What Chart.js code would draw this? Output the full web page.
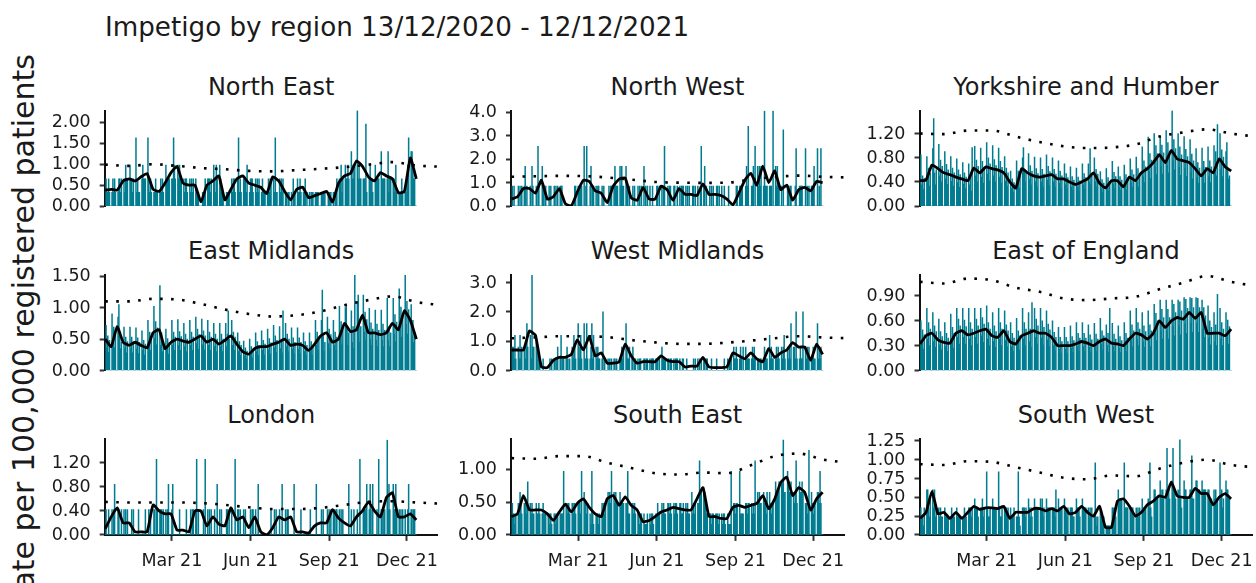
<!DOCTYPE html>
<html><head><meta charset="utf-8">
<script src="https://cdn.jsdelivr.net/npm/chart.js@4.4.1/dist/chart.umd.min.js"></script>
<style>
html,body{margin:0;padding:0;background:#fff;}
body{width:1256px;height:583px;position:relative;overflow:hidden;font-family:"DejaVu Sans",sans-serif;color:#1a1a1a;}
.t{position:absolute;white-space:nowrap;line-height:1;}
.tk{position:absolute;white-space:nowrap;line-height:1;font-size:17.5px;}
canvas{position:absolute;}
</style></head><body>
<div class="t" style="left:105px;top:14px;font-size:26.2px;">Impetigo by region 13/12/2020 - 12/12/2021</div>
<div class="t" style="left:24px;top:328px;font-size:30px;transform:translate(-50%,-50%) rotate(-90deg);">rate per 100,000 registered patients</div>
<script>
const REGIONS = ["North East","North West","Yorkshire and Humber","East Midlands","West Midlands","East of England","London","South East","South West"];
const X_TICK_DAYS = [78,170,262,353];
const X_TICK_LABELS = ["Mar 21","Jun 21","Sep 21","Dec 21"];

const NE_DAILY = [0,.65,.33,.33,.65,.33,0,0,.33,.65,.33,.65,.33,0,0,.33,.65,.65,.33,.65,0,0,.65,.33,.98,.65,.65,0,0,.98,.65,.65,.33,.65,0,0,1.63,.33,.65,.33,.33,0,0,.65,.98,.65,.65,.65,0,0,1.63,.65,.33,.65,.33,0,0,.33,.33,.65,.33,.33,0,0,.33,.65,.33,.65,.33,0,0,.98,.65,.65,.65,.65,0,0,.65,.65,1.63,.98,.65,0,0,.98,.65,.98,.65,.65,0,0,.65,.33,.65,.65,.33,0,0,.65,.33,.65,.33,.65,0,0,.65,.33,.33,.33,0,0,0,0,.33,.33,.33,.65,0,0,.65,.65,.65,.33,.65,0,0,.98,.65,.33,.98,.65,0,0,.98,.65,.33,.33,.33,0,0,0,.33,.33,.33,.33,0,0,.65,.33,.65,.65,.33,0,0,.65,1.63,.33,.65,.33,0,0,.65,.65,.65,.33,.98,0,0,.33,.65,.65,.65,.33,0,0,.65,.33,.65,.33,.65,0,0,.33,.65,.33,.33,.33,0,0,.33,.65,.33,.65,.65,0,0,.65,.33,1.63,.33,.33,0,0,.65,.33,.65,.33,.65,0,0,.33,.33,0,.33,.33,0,0,.33,0,.65,.33,.33,0,0,.65,.33,.33,.65,.33,0,0,.33,.33,.65,0,.33,0,0,.33,0,.33,.33,.33,0,0,.33,.33,.33,.33,0,0,0,.33,.33,.33,.33,.33,0,0,0,.33,.33,.33,.33,0,0,.33,0,.33,.33,.65,0,0,.65,.65,.98,.33,.65,0,0,.98,.65,.65,.98,.65,0,0,1.3,.65,.98,.65,.98,0,0,2.28,.65,.98,.65,.65,0,0,.65,.65,.65,1.96,.33,0,0,.65,.98,.65,.65,.33,0,0,.98,.65,.65,.65,.65,0,0,1.3,.65,.65,.65,.65,0,0,.65,1.3,.33,.65,.65,0,0,.65,.65,.33,.98,.33,0,0,.33,.33,.33,.65,.33,0,0,.33,.33,.65,.98,1.63,0,0,1.3,1.3,.98,.65,.65,0,0];
const NW_DAILY = [0,.85,0,.85,0,0,0,0,.85,0,.85,0,.85,0,0,.85,1.7,0,.85,0,0,0,.85,0,1.7,.85,0,0,0,.85,0,2.55,.85,0,0,0,1.7,.85,.85,0,.85,0,0,0,.85,0,.85,0,0,0,.85,0,.85,0,.85,0,0,.85,.85,.85,0,0,0,0,0,0,0,0,0,0,0,0,0,0,.85,.85,0,0,.85,.85,.85,.85,.85,0,0,2.55,0,.85,2.55,0,0,0,.85,1.7,0,.85,.85,0,0,.85,0,.85,.85,0,0,0,.85,0,.85,0,0,0,0,0,.85,0,.85,.85,0,0,.85,1.7,.85,.85,.85,0,0,1.7,.85,1.7,.85,.85,0,0,1.7,.85,.85,0,.85,0,0,0,.85,0,.85,0,0,0,.85,0,.85,0,.85,0,0,1.7,0,.85,0,.85,0,0,.85,0,0,.85,0,0,0,0,.85,.85,0,.85,0,0,.85,0,.85,2.55,0,0,0,.85,0,.85,.85,0,0,0,.85,.85,0,0,.85,0,0,.85,0,.85,.85,.85,0,0,.85,0,.85,0,.85,0,0,0,.85,.85,0,.85,0,0,.85,0,0,.85,2.55,0,0,.85,1.7,0,.85,0,0,0,.85,0,.85,0,.85,0,0,0,.85,.85,0,.85,0,0,.85,0,0,.85,0,0,0,0,.85,0,0,0,0,0,0,0,0,.85,.85,0,0,.85,.85,.85,.85,0,0,0,.85,1.7,.85,3.4,0,0,0,.85,.85,1.7,0,2.55,0,0,1.7,.85,1.7,.85,1.7,0,0,.85,4.05,.85,.85,.85,0,0,.85,.85,.85,0,4.05,0,0,1.7,.85,1.7,.85,.85,0,0,.85,0,3.25,0,0,0,0,.85,.85,0,.85,.85,0,0,0,0,.85,2.45,0,0,0,.85,.85,.85,.85,0,0,0,2.45,0,.85,0,.85,0,0,.85,.85,.85,1.7,0,0,0,2.45,0,.85,0,2.45,0,0];
const YH_DAILY = [0,.85,.35,.5,.28,.46,0,0,.82,.41,.63,.33,.55,0,0,.95,1.45,.55,.35,.6,0,0,1.02,.5,.76,.4,.66,0,0,.9,.45,.69,.36,.6,0,0,.82,.41,.63,.33,.55,0,0,.78,.39,.6,.31,.52,0,0,.72,.36,.55,.29,.48,0,0,.7,.35,.5,.25,.97,0,0,.99,.5,.76,.4,.66,0,0,.96,.48,.74,.38,.64,0,0,1.05,.53,.8,.42,.7,0,0,1.0,.5,.77,.4,.67,0,0,.96,.48,.74,.38,.64,0,0,.82,.41,.63,.33,.55,0,0,.58,.29,.45,.23,.39,0,0,.75,.38,.58,.3,.5,0,0,.8,.97,.6,.4,.55,0,0,.87,.44,.67,.35,.58,0,0,.81,.4,.62,.32,.54,0,0,.8,.4,.61,.32,.53,0,0,.85,.43,.66,.34,.57,0,0,.8,.4,.61,.32,.53,0,0,.75,.38,.58,.3,.5,0,0,.7,.35,.54,.28,.47,0,0,.65,.32,.49,.26,.43,0,0,.63,.32,.48,.25,.42,0,0,.7,.35,.54,.28,.47,0,0,.7,.4,.95,.35,.5,0,0,.8,.4,.61,.32,.53,0,0,.57,.29,.44,.23,.38,0,0,.62,.31,.47,.25,.41,0,0,.74,.37,.56,.29,.49,0,0,.65,.32,.49,.26,.43,0,0,.68,.34,.52,.27,.45,0,0,.78,.39,.6,.31,.52,0,0,.81,.4,.62,.32,.54,0,0,.98,.49,.75,.39,.65,0,0,1.14,.57,.87,.46,.76,0,0,1.2,.65,1.0,.52,.87,0,0,1.15,.66,1.01,.53,.88,0,0,1.25,.68,1.05,.55,.91,0,0,1.58,.75,1.1,.6,.95,0,0,1.2,.64,.98,.51,.85,0,0,1.15,.62,.94,.49,.82,0,0,1.1,.56,.86,.45,.75,0,0,.95,.47,.72,.38,.63,0,0,.96,.48,.74,.38,.64,0,0,.98,.49,.75,.39,.65,0,0,1.0,.6,.9,.5,1.35,0,0,1.2,.61,.93,.49,.81,0,0,.9,1.05,.6,.45,.5,0,0];
const EM_DAILY = [0,.72,.36,.55,.29,.48,0,0,.9,.45,.69,.36,.6,0,0,.85,1.05,.55,.35,.45,0,0,.69,.35,.53,.28,.46,0,0,.69,.35,.53,.28,.46,0,0,.68,.34,.52,.27,.45,0,0,.63,.32,.48,.25,.42,0,0,.8,.4,.61,.32,.53,0,0,1.02,.51,.78,.41,.68,0,0,1.35,.4,.6,.3,.45,0,0,.66,.33,.51,.26,.44,0,0,.8,.4,.61,.32,.53,0,0,.81,.4,.62,.32,.54,0,0,.75,.38,.58,.3,.5,0,0,.8,.4,.61,.32,.53,0,0,.85,.43,.66,.34,.57,0,0,.82,.41,.63,.33,.55,0,0,.8,.4,.61,.32,.53,0,0,.75,.38,.58,.3,.5,0,0,.75,.38,.58,.3,.5,0,0,.75,.38,.58,.95,.5,0,0,.8,.4,.61,.32,.53,0,0,.6,.3,.46,.24,.4,0,0,.47,.23,.36,.19,.31,0,0,.5,.25,.38,.2,.33,0,0,.6,.3,.46,.24,.4,0,0,.63,.32,.48,.25,.42,0,0,.66,.33,.51,.26,.44,0,0,.72,.36,.55,.29,.48,0,0,.7,.35,.5,.28,.95,0,0,.75,.38,.58,.3,.5,0,0,.68,.34,.52,.27,.45,0,0,.68,.34,.52,.27,.45,0,0,.6,.3,.46,.24,.4,0,0,.6,.3,.46,.24,.4,0,0,.8,.4,.61,.32,.53,0,0,.8,1.28,.55,.3,.45,0,0,.85,.43,.66,.34,.57,0,0,.8,.4,.61,.32,.53,0,0,1.02,.51,.78,.41,.68,0,0,1.0,1.05,.7,.4,.6,0,0,.95,.45,.7,.35,1.52,0,0,1.1,1.2,.8,.45,.7,0,0,1.2,.61,.93,.49,.81,0,0,.99,.5,.76,.4,.66,0,0,.96,.48,.74,.38,.64,0,0,.96,.48,.74,.38,.64,0,0,1.15,.48,.7,.38,.6,0,0,1.15,.58,.89,.46,.77,0,0,1.3,.66,1.01,.53,.88,0,0,1.52,.73,1.1,.58,.97,0,0,1.05,.55,.8,.45,.6,0,0];
const WM_DAILY = [0,.8,.8,.4,1.2,.4,0,0,.8,.4,1.2,.4,.8,0,0,.8,.4,.8,1.6,.8,0,0,1.2,.4,3.25,.8,.8,0,0,1.2,.8,0,.4,.4,0,0,0,.4,0,0,0,0,0,0,0,.4,0,.4,0,0,.4,.4,0,.4,.8,0,0,.4,1.2,0,.4,.4,0,0,.4,.8,.4,0,.4,0,0,.8,.4,1.2,.8,.4,0,0,1.6,.4,.8,1.2,.4,0,0,1.6,.4,.4,1.6,.4,0,0,.4,.8,1.6,.4,1.2,0,0,.8,.4,.8,.4,.4,0,0,.4,2.0,0,.4,0,0,0,.4,0,.4,0,.4,0,0,.4,.4,0,.4,0,0,0,.4,.4,.8,.4,.8,0,0,1.6,.8,.4,.4,.8,0,0,.4,.8,0,.4,.4,0,0,.4,0,.4,.4,0,0,0,.4,.4,0,.4,.4,0,0,.4,0,.4,.4,.4,0,0,.4,.4,.4,0,.4,0,0,.8,.4,.4,.4,.4,0,0,.4,.4,0,.4,.4,0,0,.4,0,.4,.4,.4,0,0,.4,0,0,.4,.4,0,0,0,.4,0,0,0,0,0,0,0,.4,0,.4,0,0,.4,0,.4,0,.4,0,0,.4,.4,0,.4,.4,0,0,0,0,.4,0,0,0,0,0,.4,0,0,0,0,0,0,0,0,.4,0,0,0,.4,0,.4,.4,.4,0,0,.8,.4,.4,.8,.4,0,0,.4,.8,.4,0,.8,0,0,.8,.4,.4,.4,.4,0,0,.4,.8,.4,.8,.4,0,0,.4,.4,0,.4,.4,0,0,.4,.8,.4,.4,.4,0,0,1.2,.4,.8,.4,.4,0,0,.4,.8,.4,.8,.4,0,0,.8,.4,.8,1.2,.4,0,0,.8,.4,.8,.4,1.6,0,0,.8,.8,.4,2.0,.4,0,0,.4,.8,.4,.4,2.0,0,0,.8,.4,.8,.4,.8,0,0,.4,.4,.8,.4,.4,0,0,1.6,.4,.8,.4,.8,0,0];
const EE_DAILY = [0,.6,.32,.49,.26,.43,0,0,.75,.38,.58,.3,.5,0,0,.7,.35,.54,.28,.47,0,0,.62,.31,.47,.25,.41,0,0,.58,.29,.45,.23,.39,0,0,.68,.34,.52,.27,.45,0,0,.75,.4,.62,.32,.54,0,0,.75,.4,.61,.32,.53,0,0,.75,.38,.58,.3,.5,0,0,.75,.4,.62,.32,.54,0,0,.75,.42,.64,.34,.56,0,0,.78,.38,.58,.3,.5,0,0,.7,.35,.54,.28,.47,0,0,.75,.38,.58,.3,.5,0,0,.72,.36,.55,.29,.48,0,0,.58,.29,.45,.23,.39,0,0,.63,.32,.48,.25,.42,0,0,.75,.38,.58,.3,.5,0,0,.7,.35,.5,.28,.82,0,0,.75,.4,.62,.32,.54,0,0,.75,.39,.6,.31,.52,0,0,.72,.37,.56,.29,.49,0,0,.6,.3,.46,.24,.4,0,0,.52,.26,.4,.21,.35,0,0,.52,.26,.4,.21,.35,0,0,.54,.27,.41,.22,.36,0,0,.58,.29,.45,.23,.39,0,0,.58,.29,.45,.23,.39,0,0,.55,.28,.43,.22,.37,0,0,.57,.29,.44,.23,.38,0,0,.63,.32,.48,.25,.42,0,0,.55,.3,.45,.22,.75,0,0,.57,.29,.44,.23,.38,0,0,.54,.27,.41,.22,.36,0,0,.58,.29,.45,.23,.39,0,0,.72,.36,.55,.29,.48,0,0,.75,.38,.58,.3,.5,0,0,.7,.35,.54,.28,.47,0,0,.72,.36,.55,.29,.48,0,0,.8,.45,.69,.36,.6,0,0,.85,.48,.74,.38,.64,0,0,.85,.48,.74,.38,.64,0,0,.85,.53,.8,.42,.7,0,0,.85,.54,.83,.43,.72,0,0,.88,.56,.86,.45,.75,0,0,.88,.57,.87,.46,.76,0,0,.88,.57,.87,.46,.76,0,0,.85,.5,.76,.4,.66,0,0,.78,.39,.6,.31,.52,0,0,.7,.35,.55,.3,.92,0,0,.75,.38,.58,.3,.5,0,0,.7,.4,.61,.32,.53,0,0];
const LON_DAILY = [0,.42,0,0,.42,0,0,0,.42,0,.42,.84,0,0,0,.42,.42,0,0,.42,0,0,.42,0,.42,0,.42,0,0,0,0,.42,0,.42,0,0,0,0,0,.42,0,0,0,0,0,0,0,.42,0,0,0,.42,0,.42,0,0,0,.42,.42,0,1.26,.42,0,0,.42,.42,.42,0,.42,0,0,.42,0,.42,.84,0,0,0,.42,.84,0,0,0,0,0,0,0,.42,0,0,0,0,0,0,0,.42,0,0,0,0,.42,0,.42,.42,0,0,.42,1.26,0,.42,0,0,0,0,0,.42,0,1.26,0,0,.42,0,.42,0,.42,0,0,0,.42,0,0,.84,0,0,.42,0,.42,0,0,0,0,0,.42,.42,0,.42,0,0,.42,0,0,0,1.26,0,0,.42,.42,0,.42,0,0,0,.42,0,.42,0,0,0,0,0,.42,0,.42,.42,0,0,.42,0,0,.84,0,0,0,0,0,0,0,0,0,0,0,0,0,0,.42,0,0,0,.42,0,.42,0,0,0,.42,0,0,.84,0,0,0,.42,0,.42,.42,0,0,0,0,0,0,.84,0,0,0,0,0,0,0,.42,0,0,0,0,0,0,0,0,0,0,.42,0,0,0,0,0,0,.84,0,0,0,0,0,.42,0,.42,0,0,0,0,.42,0,.42,0,.42,0,0,.42,.42,0,.42,.42,0,0,.42,0,.42,0,.42,0,0,0,0,0,0,.84,0,0,.42,0,0,.42,0,0,0,.42,0,0,1.26,0,0,0,.42,.42,.42,.42,.84,0,0,.42,.84,.42,0,.84,0,0,0,0,.42,0,1.26,0,0,.42,.42,0,.42,.42,0,0,1.58,.42,.84,.42,0,0,0,.84,.42,.42,.84,.42,0,0,.42,0,.42,0,.42,0,0,.42,0,0,.42,.84,0,0,.42,.42,0,.42,.42,0,0];
const SE_DAILY = [0,.48,.32,.32,.16,.32,0,0,.48,.32,.65,.48,.32,0,0,.48,.48,.32,.48,.81,0,0,.48,.32,.48,.32,.32,0,0,.48,.32,.32,.48,.32,0,0,.32,.48,.32,.32,.32,0,0,.32,.16,.32,.32,.16,0,0,.32,.32,.16,.32,.32,0,0,.32,.32,.32,.32,.97,0,0,.48,.32,.48,.48,.32,0,0,.48,.48,.32,.48,.32,0,0,.48,.48,.48,.32,.97,0,0,.65,.48,.48,.32,.48,0,0,.32,.16,.97,.32,.16,0,0,.32,.32,.32,.16,.32,0,0,.48,.32,.48,.32,.48,0,0,.65,.48,.65,.48,.97,0,0,.65,.48,.65,.48,.48,0,0,.65,.48,.48,.48,.48,0,0,.48,.48,.97,.32,.32,0,0,.48,.48,.32,.48,.32,0,0,.32,.32,.16,.32,.32,0,0,.32,.16,.16,.16,.32,0,0,.32,.16,.32,.32,.16,0,0,.32,.32,.48,.32,.32,0,0,.48,.32,.48,.32,.32,0,0,.48,.48,.32,.48,.32,0,0,.48,.32,.48,.48,.32,0,0,.48,.48,.32,.32,.48,0,0,.48,.32,.48,.32,.32,0,0,.65,.32,.48,.32,.48,0,0,.48,.48,1.13,.65,.65,0,0,.65,.65,.48,.32,.32,0,0,.32,.32,.16,.32,.32,0,0,.32,.32,.32,.16,.32,0,0,.32,.16,.32,.32,.16,0,0,.32,.16,.16,.16,.97,0,0,.48,.48,.32,.48,.48,0,0,.97,.32,.32,.32,.32,0,0,.48,.48,.32,.48,.48,0,0,.48,.32,.48,.32,1.13,0,0,.65,.48,.65,.48,.48,0,0,.65,.48,.48,.32,.65,0,0,.65,.48,.32,.48,.48,0,0,.81,.65,.65,.65,.81,0,0,.81,.81,1.45,.65,.65,0,0,.97,.81,.65,.65,.81,0,0,.65,.48,.65,1.13,.48,0,0,.81,.65,.65,.81,.65,0,0,.48,.48,.32,.48,1.29,0,0,.65,.48,.32,.48,.48,0,0,.65,.65,.48,.97,.48,0,0];
const SW_DAILY = [0,.36,.24,.24,.12,.36,0,0,.6,.6,.36,.24,.48,0,0,.6,.36,.6,.24,.36,0,0,.36,.24,.36,.24,.24,0,0,.36,.24,.24,.24,.24,0,0,.24,.36,.24,.24,.24,0,0,.36,.24,.24,.24,.24,0,0,.24,.24,.36,.24,.24,0,0,.36,.36,.36,.24,.36,0,0,.48,.36,.36,.36,.24,0,0,.36,.36,.48,.24,.36,0,0,.84,.36,.24,.24,.36,0,0,.48,.36,.36,.36,.36,0,0,.84,.36,.24,.24,.36,0,0,.36,.36,.36,.24,.36,0,0,.36,.24,.24,.24,.36,0,0,.24,.24,.84,.24,.12,0,0,.36,.36,.36,.24,.36,0,0,.48,.36,.24,.36,.24,0,0,.48,.36,.36,.36,.36,0,0,.48,.36,.48,.24,.36,0,0,.48,.36,.36,.36,.36,0,0,.36,.36,.36,.24,.6,0,0,.48,.36,.36,.36,.36,0,0,.48,.36,.36,.24,.36,0,0,.36,.36,.36,.24,.24,0,0,.48,.36,.36,.36,.24,0,0,.48,.36,.36,.36,.36,0,0,.36,.24,.36,.24,.36,0,0,.24,.96,.24,.12,.24,0,0,.36,.24,.24,.24,.24,0,0,.12,.12,.12,.12,.12,0,0,.36,.36,.24,.36,.24,0,0,.6,.48,.48,.48,.48,0,0,.96,.36,.36,.36,.36,0,0,.36,.36,.36,.36,.24,0,0,.36,.24,.36,.24,.36,0,0,.48,.36,.36,.36,.36,0,0,.48,.36,.96,.36,.24,0,0,.6,.6,.48,.48,.48,0,0,.72,.6,.48,.6,.48,0,0,.6,1.15,.6,.6,.48,0,0,.72,1.15,.6,.6,.48,0,0,.6,.48,1.27,.48,.36,0,0,.72,.6,.6,.48,.48,0,0,.6,.6,1.05,.48,.48,0,0,.72,.72,.6,.6,.6,0,0,.72,.6,.6,.6,.6,0,0,.6,.6,.48,.48,.48,0,0,.6,.48,.6,.48,.48,0,0,.96,.48,.6,.36,.48,0,0,.72,.6,.6,.48,.48,0,0];

const NE_AVG = [.38,.40,.38,.6,.65,.6,.7,.78,.4,.35,.55,.8,.95,.55,.5,.5,.1,.5,.6,.72,.15,.4,.65,.72,.55,.5,.45,.3,.7,.6,.35,.15,.4,.45,.2,.25,.3,.35,.1,.55,.72,.78,1.08,.95,.7,.6,.8,.72,.65,.32,.35,1.15,.65];
const NW_AVG = [.3,.4,.75,.75,.55,1.1,.3,.4,.75,.1,0,.6,1.1,1.05,.65,.55,.15,.85,1.15,1.2,.35,.25,.8,.3,.3,.85,.7,.25,.75,.5,.5,.45,.95,.5,.5,.45,.3,.05,.55,1.1,1.4,.9,1.7,1.0,1.5,.7,.9,.25,.7,.8,.65,1.05,1.0];
const YH_AVG = [.42,.43,.68,.62,.55,.52,.48,.45,.42,.63,.55,.65,.62,.6,.55,.4,.3,.62,.55,.5,.48,.5,.52,.45,.45,.4,.36,.4,.45,.55,.38,.3,.42,.42,.32,.48,.42,.55,.62,.72,.85,.72,.92,.78,.75,.72,.62,.5,.62,.55,.78,.65,.58];
const EM_AVG = [.5,.38,.7,.45,.4,.45,.4,.36,.6,.65,.35,.45,.5,.47,.45,.5,.55,.45,.5,.42,.48,.55,.42,.3,.26,.35,.38,.38,.42,.45,.5,.4,.42,.4,.32,.42,.55,.6,.45,.5,.75,.62,.65,.88,.6,.6,.57,.6,.75,.65,.95,.8,.5];
const WM_AVG = [.7,.7,.7,1.35,1.2,.12,.1,.35,.45,.45,.55,1.05,.7,1.15,.5,.6,.25,.25,.3,.9,.5,.25,.3,.3,.3,.5,.35,.3,.3,.12,.15,.15,.45,.12,.1,.1,.12,.6,.5,.4,.6,.4,.3,.75,.45,.6,.7,.95,.8,.8,.35,.9,.55];
const EE_AVG = [.32,.42,.45,.37,.34,.33,.45,.48,.43,.45,.48,.5,.42,.4,.48,.35,.32,.42,.45,.48,.45,.45,.4,.3,.3,.3,.32,.35,.33,.3,.35,.38,.33,.32,.3,.38,.45,.43,.38,.45,.6,.52,.6,.64,.62,.7,.63,.7,.45,.45,.45,.42,.5];
const LON_AVG = [.1,.3,.45,.2,.2,.05,.05,.05,.5,.4,.35,.35,.08,.08,.05,.4,.4,.15,.3,.18,.15,.45,.25,.3,.12,.3,.05,0,.12,.3,.25,.3,.05,.05,.03,.15,.2,.2,.42,.28,.2,.15,.3,.4,.55,.4,.3,.62,.7,.3,.3,.35,.25];
const SE_AVG = [.28,.32,.6,.38,.38,.38,.32,.22,.35,.47,.35,.48,.55,.42,.32,.28,.55,.6,.45,.58,.45,.38,.2,.22,.28,.35,.38,.42,.4,.38,.38,.55,.72,.28,.28,.25,.25,.42,.45,.42,.45,.48,.6,.4,.55,.8,.88,.6,.72,.65,.38,.55,.65];
const SW_AVG = [.22,.3,.58,.28,.3,.22,.3,.22,.3,.38,.34,.36,.36,.35,.38,.22,.3,.3,.3,.35,.35,.32,.35,.32,.38,.28,.3,.38,.3,.25,.38,.1,.1,.45,.48,.38,.25,.3,.4,.45,.52,.5,.7,.52,.5,.5,.62,.55,.55,.4,.5,.55,.48];

const NE_BASE = [.99,.96,1.0,.96,.91,.88,.84,.83,.86,.89,.93,.99,1.05,.97,.94];
const NW_BASE = [1.25,1.27,1.29,1.28,1.22,1.13,1.03,1.0,.99,1.0,1.13,1.24,1.3,1.25,1.22];
const YH_BASE = [1.2,1.19,1.25,1.25,1.15,1.06,.99,.96,.97,1.02,1.15,1.22,1.27,1.2,1.15];
const EM_BASE = [1.1,1.1,1.14,1.13,1.06,.97,.9,.86,.88,.94,1.04,1.12,1.18,1.09,1.04];
const WM_BASE = [1.1,1.13,1.17,1.17,1.14,1.04,.96,.91,.91,.95,1.02,1.1,1.17,1.13,1.1];
const EE_BASE = [1.07,1.05,1.11,1.09,1.0,.95,.87,.85,.87,.89,.98,1.06,1.14,1.07,1.02];
const LON_BASE = [.55,.54,.54,.54,.53,.5,.46,.43,.43,.45,.5,.55,.56,.54,.52];
const SE_BASE = [1.17,1.16,1.2,1.2,1.1,1.02,.94,.92,.95,.94,1.06,1.2,1.24,1.15,1.1];
const SW_BASE = [.94,.93,.98,.97,.9,.83,.76,.74,.79,.78,.88,.96,1.0,.93,.9];

const NE_TICKS = ["0.00","0.50","1.00","1.50","2.00"];
const NW_TICKS = ["0.0","1.0","2.0","3.0","4.0"];
const YH_TICKS = ["0.00","0.40","0.80","1.20"];
const EM_TICKS = ["0.00","0.50","1.00","1.50"];
const WM_TICKS = ["0.0","1.0","2.0","3.0"];
const EE_TICKS = ["0.00","0.30","0.60","0.90"];
const LON_TICKS = ["0.00","0.40","0.80","1.20"];
const SE_TICKS = ["0.00","0.50","1.00"];
const SW_TICKS = ["0.00","0.25","0.50","0.75","1.00","1.25"];
const Y_MAX = [2.28,4.07,1.58,1.52,3.26,1.153,1.59,1.455,1.27];

const DAILY = [NE_DAILY,NW_DAILY,YH_DAILY,EM_DAILY,WM_DAILY,EE_DAILY,LON_DAILY,SE_DAILY,SW_DAILY];
const AVG = [NE_AVG,NW_AVG,YH_AVG,EM_AVG,WM_AVG,EE_AVG,LON_AVG,SE_AVG,SW_AVG];
const BASE = [NE_BASE,NW_BASE,YH_BASE,EM_BASE,WM_BASE,EE_BASE,LON_BASE,SE_BASE,SW_BASE];
const TICKS = [NE_TICKS,NW_TICKS,YH_TICKS,EM_TICKS,WM_TICKS,EE_TICKS,LON_TICKS,SE_TICKS,SW_TICKS];

const AVG_STEP = 7, BASE_STEP = 28;
const COLS = [104.7, 511, 919.5], ROWS = [110.6, 275, 439.4], PW = 333, PH = 95.5;
const XMIN = -0.6, XMAX = 389;
const TEAL = '#007C91', INK = '#1a1a1a';

function label(text, x, y, tf) {
  const e = document.createElement('div');
  e.className = 'tk'; e.textContent = text;
  e.style.left = x + 'px'; e.style.top = y + 'px';
  e.style.transform = tf;
  document.body.appendChild(e);
}

REGIONS.forEach((name, i) => {
  const c = i % 3, r = Math.floor(i / 3), bottom = r === 2;
  const plotL = COLS[c], plotT = ROWS[r];
  const cl = Math.floor(plotL) - 100, ct = Math.floor(plotT) - 16;
  const yw = plotL - cl, padTop = plotT - ct;
  const XH = bottom ? 45 : 0;
  const w = Math.ceil(yw + PW + 16), h = Math.ceil(padTop + PH + XH + (bottom ? 0 : 14));
  const padRight = w - yw - PW, padB = h - padTop - PH - XH;

  const d = document.createElement('div');
  d.className = 't'; d.textContent = name;
  d.style.fontSize = '24px';
  d.style.left = (plotL + PW / 2) + 'px';
  d.style.top = (plotT - 36) + 'px';
  d.style.transform = 'translateX(-50%)';
  document.body.appendChild(d);

  const cv = document.createElement('canvas');
  cv.width = w; cv.height = h;
  cv.style.left = cl + 'px'; cv.style.top = ct + 'px';
  cv.style.width = w + 'px'; cv.style.height = h + 'px';
  document.body.appendChild(cv);

  const ticks = TICKS[i];
  const chart = new Chart(cv, {
    type: 'bar',
    data: {datasets: [
      {type: 'line', data: AVG[i].map((v, k) => ({x: k * AVG_STEP, y: v})), borderColor: '#000', borderWidth: 2.8, pointRadius: 0, tension: 0.15, order: 0},
      {type: 'line', data: BASE[i].map((v, k) => ({x: k * BASE_STEP, y: v})), borderColor: '#000', borderWidth: 2.6, borderDash: [2.6, 8.4], pointRadius: 0, cubicInterpolationMode: 'monotone', order: 1},
      {type: 'bar', data: DAILY[i].map((v, k) => ({x: k, y: v})), backgroundColor: TEAL, barPercentage: 1, categoryPercentage: 1, order: 2}
    ]},
    options: {
      responsive: false, animation: false, devicePixelRatio: 1,
      layout: {padding: {left: 0, top: padTop, right: padRight, bottom: padB}},
      plugins: {legend: {display: false}, tooltip: {enabled: false}},
      scales: {
        x: {
          type: 'linear', min: XMIN, max: XMAX, offset: false, display: bottom,
          afterBuildTicks: s => { s.ticks = X_TICK_DAYS.map(v => ({value: v})); },
          afterFit: s => { s.height = XH; },
          ticks: {display: false},
          grid: {display: true, offset: false, drawOnChartArea: false, drawTicks: true, tickLength: 6, tickWidth: 2, color: '#333', tickColor: '#333'},
          border: {display: true, color: '#111', width: 2}
        },
        y: {
          type: 'linear', min: 0, max: Y_MAX[i],
          afterBuildTicks: s => { s.ticks = ticks.map(t => ({value: parseFloat(t)})); },
          afterFit: s => { s.width = yw; },
          ticks: {display: false},
          grid: {display: true, drawOnChartArea: false, drawTicks: true, tickLength: 5, tickWidth: 2, color: '#333', tickColor: '#333'},
          border: {display: true, color: '#111', width: 2}
        }
      }
    }
  });

  const ca = chart.chartArea;
  ticks.forEach(t => {
    label(t, cl + ca.left - 14, ct + chart.scales.y.getPixelForValue(parseFloat(t)), 'translate(-100%,-50%)');
  });
  if (bottom) {
    X_TICK_DAYS.forEach((dd, k) => {
      label(X_TICK_LABELS[k], cl + chart.scales.x.getPixelForValue(dd), ct + ca.bottom + 17, 'translateX(-50%)');
    });
  }
});
</script>
</body></html>
